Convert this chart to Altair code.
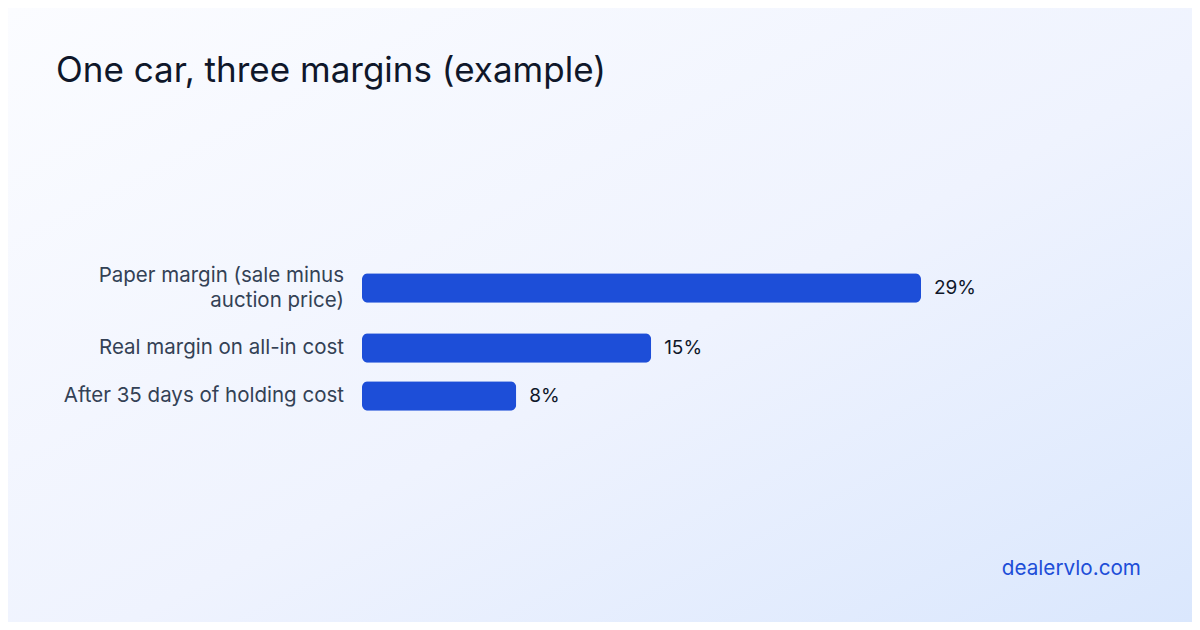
import altair as alt
import pandas as pd

# ---- data ----
labels = [["Paper margin (sale minus", "auction price)"],
          ["Real margin on all-in cost"],
          ["After 35 days of holding cost"]]
values = [29, 15, 8]
title_text = "One car, three margins (example)"
footer_text = "dealervlo.com"

LINE_H = 25
# row layout derived from the number of label lines
rows = []
pos = 0
for lab, v in zip(labels, values):
    h = 48 + 24 * (len(lab) - 1)
    c = pos + h / 2
    rows.append({"label": lab, "value": v, "pos": c,
                 "lpos": c - (len(lab) - 1) * LINE_H / 2, "txt": f"{v}%"})
    pos += h
df = pd.DataFrame(rows)
total = pos

W, H = 1184, 614
FONT = "Inter"

x_scale = alt.Scale(domain=[0, 29], range=[354, 913], zero=True, nice=False, padding=0)
y_scale = alt.Scale(domain=[0, total], range=[244, 244 + total], nice=False, zero=False, padding=0)

one = alt.Data(values=[{"a": 1}])

bg = alt.Chart(one).mark_rect(
    color=alt.Gradient(
        gradient="linear",
        stops=[alt.GradientStop(color="#fbfcff", offset=0),
               alt.GradientStop(color="#eff3fe", offset=0.55),
               alt.GradientStop(color="#dae7fd", offset=1)],
        x1=0, y1=0, x2=1, y2=1),
).encode(x=alt.value(0), x2=alt.value(W), y=alt.value(0), y2=alt.value(H))

base = alt.Chart(df)

bars = base.mark_bar(color="#1d4ed8", height=29.5, cornerRadius=6,
                     orient="horizontal").encode(
    x=alt.X("value:Q", scale=x_scale, axis=None),
    y=alt.Y("pos:Q", scale=y_scale, axis=None),
)

vals = base.mark_text(align="left", baseline="middle", dx=13, font=FONT,
                      fontSize=19, color="#0f172a").encode(
    x=alt.X("value:Q", scale=x_scale, axis=None),
    y=alt.Y("pos:Q", scale=y_scale, axis=None),
    text="txt:N",
)

labs = base.mark_text(align="right", baseline="middle", font=FONT, fontSize=20.5,
                      lineHeight=LINE_H, color="#334155").encode(
    x=alt.value(336),
    y=alt.Y("lpos:Q", scale=y_scale, axis=None),
    text="label",
)

title = alt.Chart(one).mark_text(align="left", baseline="alphabetic", font=FONT,
                                 fontSize=35, color="#0f172a").encode(
    x=alt.value(48), y=alt.value(74), text=alt.value(title_text))

footer = alt.Chart(one).mark_text(align="right", baseline="alphabetic", font=FONT,
                                  fontSize=20.7, color="#1d4ed8").encode(
    x=alt.value(1133), y=alt.value(567), text=alt.value(footer_text))

chart = alt.layer(bg, bars, vals, labs, title, footer).properties(
    width=W, height=H,
    autosize=alt.AutoSizeParams(type="none"),
    padding=0,
).configure_view(strokeWidth=0, stroke=None).configure(background="#ffffff")

chart.save("out.html", embed_options={"renderer": "svg", "actions": False})
